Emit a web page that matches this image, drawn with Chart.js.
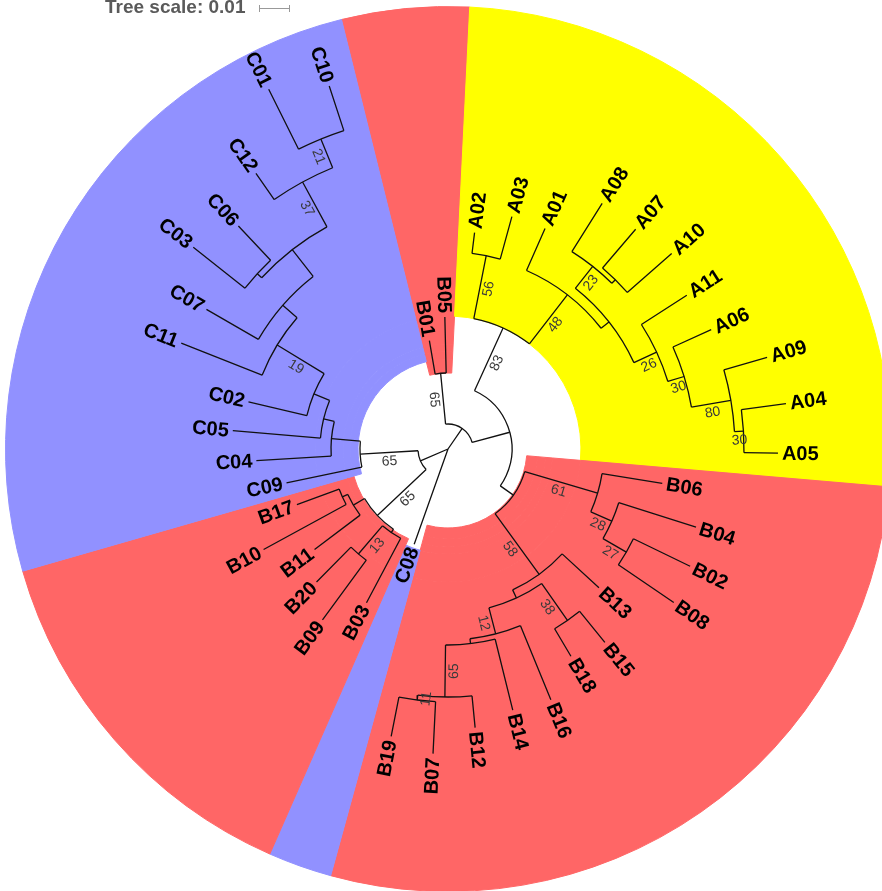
<!DOCTYPE html>
<html>
<head>
<meta charset="utf-8">
<script src="https://cdn.jsdelivr.net/npm/chart.js@4.4.0/dist/chart.umd.min.js"></script>
<style>
  html, body { margin: 0; padding: 0; background: #fff; overflow: hidden; }
  #wrap { position: relative; width: 882px; height: 891px; overflow: hidden; }
  #ranges { position: absolute; left: 5px; top: 6px; }
  #tree { position: absolute; left: 0; top: 0; }
</style>
</head>
<body>
<div id="wrap">
  <canvas id="ranges" width="886" height="886"></canvas>
  <canvas id="tree" width="882" height="891"></canvas>
</div>
<script>
// leaves, clockwise, starting just left of 12 o'clock
const leaves = ['B01','B05','A02','A03','A01','A08','A07','A10','A11','A06','A09','A04','A05',
  'B06','B04','B02','B08','B13','B15','B18','B16','B14','B12','B07','B19','C08',
  'B03','B09','B20','B11','B10','B17','C09','C04','C05','C02','C11','C07','C03','C06','C12','C01','C10'];
// distance of each tip from the root (px at this size)
const leafTip = [110,132, 218,241,241,290,289,297,284,289,332,341,330,
  217,260,269,273, 205,249,241,271,269,280,305,293, 101,
  174,212,187,167,210,161, 165,192,216,205,287,279,325,306,336,402,382];
const leafParent = ['nB','nB','a56','a56','a48','a23','a710','a710','a26','a30','a80','a30b','a30b',
  'b61','b28','b27','b27','b58','b38','b38','b12','bz','b65','b11','b11','root',
  'bq','b13','b13','bp','b1710','b1710','c65','ca','cb','cc','c19','cf','c36','c36','c37','c21','c21'];

// internal nodes
const nodes = ['root','x','nB','z','a83','a56','a48','ax','a23','a710','a26','a30','a80','a30b',
  'w','b61','b28','b27','b58','by','b38','b12','bz','b65','b11',
  'y','b2','bq','b13','bp','b1710','c65','ca','cb','cc','c19','cf','ch','c36','c37','c21'];
const nodeParent = [null,'root','x','x','z','a83','a83','a48','ax','a23','ax','a26','a30','a80',
  'z','w','b61','b28','w','b58','by','by','b12','bz','b65',
  'root','y','b2','bq','b2','bp','y','c65','ca','cb','cc','c19','cf','ch','ch','c37'];
const nodeRadius = [0,25,76,64,133,197,195,205,233,238,230,247,287,296,
  80,156,179,206,155,164,209,191,196,248,253,
  30,97,101,138,110,116,88,117,128,145,200,219,253,259,304,335];
const nodeSupport = ['','','65','','83','56','48','','23','','26','30','80','30',
  '','61','28','27','58','','38','12','','65','11',
  '','65','','13','','','65','','','','19','','','','37','21'];

// coloured clade ranges, in the same clockwise order (leaf slots each)
const rangeNames = ['B01-B05','A','B06-B19','C08','B03-B17','C'];
const rangeSlots = [2, 11, 12, 1, 6, 11];
const rangeInner = [76, 133, 79, 105, 98, 90];
const rangeColors = ['#ff6666', '#ffff00', '#ff6666', '#9191ff', '#ff6666', '#9191ff'];

const OUTER = 443;
const step = 360 / leaves.length;
const START = 7 - 2 * step;           // angle of first leaf, degrees clockwise from north
const rad = d => d * Math.PI / 180;

// ---- tree geometry from the tables ----
const angle = {}, radius = {}, kids = {};
nodes.forEach((n, i) => { radius[n] = nodeRadius[i]; kids[n] = []; });
leaves.forEach((l, i) => {
  angle[l] = START + i * step;
  radius[l] = leafTip[i];
  kids[leafParent[i]].push(l);
});
nodes.forEach((n, i) => { if (nodeParent[i]) kids[nodeParent[i]].push(n); });
const parentOf = {};
leaves.forEach((l, i) => parentOf[l] = leafParent[i]);
nodes.forEach((n, i) => parentOf[n] = nodeParent[i]);

function place(n) {
  if (angle[n] !== undefined) return angle[n];
  const a = kids[n].map(place);
  angle[n] = (Math.min(...a) + Math.max(...a)) / 2;
  return angle[n];
}
place('root');

const polar = (r, a) => ({ x: r * Math.sin(rad(a)), y: r * Math.cos(rad(a)) });

const branchPoints = [];
[...leaves, ...nodes].forEach(n => {
  const p = parentOf[n];
  if (!p) return;
  branchPoints.push(polar(radius[p], angle[n]), polar(radius[n], angle[n]), { x: null, y: null });
});

const arcs = nodes.filter(n => radius[n] > 0).map(n => {
  const a = kids[n].map(c => angle[c]);
  return { r: radius[n], from: Math.min(...a), to: Math.max(...a) };
});

// ---- clade colour ranges as stacked doughnut rings ----
const edges = [...new Set(rangeInner)].sort((a, b) => a - b);
edges.push(OUTER);
const ringSets = [];
for (let k = edges.length - 2; k >= 0; k--) {
  const inner = edges[k];
  const cols = rangeColors.map((c, j) => rangeInner[j] <= inner ? c : 'rgba(0,0,0,0)');
  ringSets.push({
    data: rangeSlots,
    weight: edges[k + 1] - inner,
    backgroundColor: cols,
    borderColor: cols,
    borderWidth: 1
  });
}

new Chart(document.getElementById('ranges'), {
  type: 'doughnut',
  data: { labels: rangeNames, datasets: ringSets },
  options: {
    responsive: false,
    animation: false,
    events: [],
    cutout: edges[0],
    rotation: START - step / 2,
    plugins: { legend: { display: false }, tooltip: { enabled: false } }
  }
});

// ---- tree ----
function radialText(ctx, cx, cy, text, ang, r, leaf) {
  const a = ((ang % 360) + 360) % 360;
  const right = a < 180;
  ctx.save();
  ctx.translate(cx, cy);
  ctx.rotate(rad(right ? a - 90 : a + 90));
  const px = right ? r : -r;
  if (leaf) {
    ctx.textAlign = right ? 'left' : 'right';
    ctx.textBaseline = 'middle';
    ctx.fillText(text, px, 1);
  } else {
    ctx.textAlign = 'center';
    ctx.textBaseline = 'top';
    ctx.fillText(text, px, 2);
  }
  ctx.restore();
}

const treePlugin = {
  id: 'treeDecor',
  afterDatasetsDraw(chart) {
    const { ctx, scales: { x, y } } = chart;
    const cx = x.getPixelForValue(0), cy = y.getPixelForValue(0);
    const k = x.getPixelForValue(1) - cx;
    ctx.save();
    ctx.strokeStyle = '#111';
    ctx.lineWidth = 1.3;
    arcs.forEach(a => {
      ctx.beginPath();
      ctx.arc(cx, cy, a.r * k, rad(a.from - 90), rad(a.to - 90));
      ctx.stroke();
    });

    ctx.fillStyle = '#000';
    ctx.font = 'bold 20px "Liberation Sans", Arial, sans-serif';
    leaves.forEach(l => radialText(ctx, cx, cy, l, angle[l], (radius[l] + 4) * k, true));

    ctx.fillStyle = '#3a3a3a';
    ctx.font = '14px "Liberation Sans", Arial, sans-serif';
    nodes.forEach((n, i) => {
      if (!nodeSupport[i]) return;
      const mid = (radius[n] + radius[parentOf[n]]) / 2;
      radialText(ctx, cx, cy, nodeSupport[i], angle[n], mid * k, false);
    });

    // tree scale
    ctx.fillStyle = '#5a5a5a';
    ctx.font = 'bold 19px "Liberation Sans", Arial, sans-serif';
    ctx.textAlign = 'left';
    ctx.textBaseline = 'alphabetic';
    ctx.fillText('Tree scale: 0.01', 105, 13);
    ctx.strokeStyle = '#999';
    ctx.lineWidth = 1;
    ctx.beginPath();
    ctx.moveTo(259, 8.5); ctx.lineTo(290, 8.5);
    ctx.moveTo(259.5, 5); ctx.lineTo(259.5, 12);
    ctx.moveTo(289.5, 5); ctx.lineTo(289.5, 12);
    ctx.stroke();
    ctx.restore();
  }
};

new Chart(document.getElementById('tree'), {
  type: 'scatter',
  data: {
    datasets: [{
      data: branchPoints,
      showLine: true,
      spanGaps: false,
      borderColor: '#111',
      borderWidth: 1.3,
      pointRadius: 0
    }]
  },
  options: {
    responsive: false,
    animation: false,
    events: [],
    layout: { padding: 0 },
    scales: {
      x: { type: 'linear', min: -448, max: 434, display: false },
      y: { type: 'linear', min: -442, max: 449, display: false }
    },
    plugins: { legend: { display: false }, tooltip: { enabled: false } }
  },
  plugins: [treePlugin]
});
</script>
</body>
</html>
